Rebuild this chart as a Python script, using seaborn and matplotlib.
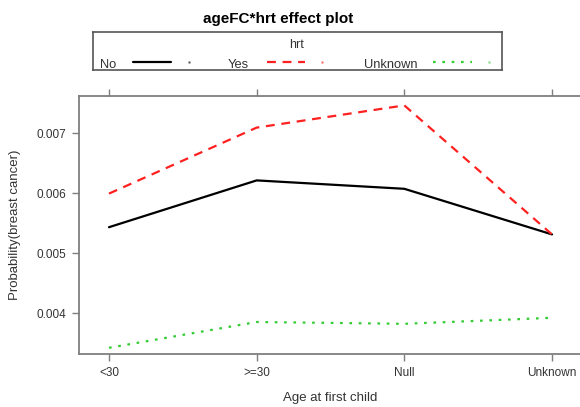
import matplotlib
matplotlib.use("Agg")
import matplotlib.pyplot as plt
import seaborn as sns
import pandas as pd
from matplotlib.lines import Line2D

categories = ["<30", ">=30", "Null", "Unknown"]
hrt_levels = ["No", "Yes", "Unknown"]
prob_no = [0.00543, 0.00621, 0.00607, 0.00531]
prob_yes = [0.00599, 0.00709, 0.00746, 0.00531]
prob_unknown = [0.00342, 0.00385, 0.00382, 0.00392]
y_ticks = [0.004, 0.005, 0.006, 0.007]

sns.set_style("white")
plt.rcParams['font.family'] = ['Liberation Sans', 'DejaVu Sans']

rows = []
for lvl, vals in zip(hrt_levels, [prob_no, prob_yes, prob_unknown]):
    for i, (c, v) in enumerate(zip(categories, vals)):
        rows.append({"ageFC": c, "pos": i, "hrt": lvl, "prob": v})
df = pd.DataFrame(rows)

fig = plt.figure(figsize=(5.8, 4.07), dpi=100)
ax = fig.add_axes([79/580, (407-354)/407, (582-79)/580, (354-95.7)/407])

palette = {"No": "black", "Yes": "#ff2020", "Unknown": "#33cc33"}
ls_map = {"No": "-", "Yes": (0, (4, 3)), "Unknown": (0, (1.2, 3))}
for lvl in hrt_levels:
    sub = df[df.hrt == lvl]
    sns.lineplot(data=sub, x="pos", y="prob", color=palette[lvl], ax=ax,
                 linewidth=1.6, legend=False)
for line, lvl in zip(ax.get_lines(), hrt_levels):
    line.set_linestyle(ls_map[lvl])
    line.set_dash_capstyle("butt")

ax.set_xlim(-30/147.7, 3 + 30/147.7)
ax.set_ylim(0.004 - 41/60*0.001, 0.007 + 37.3/60*0.001)
ax.set_xticks(range(len(categories)))
ax.set_xticklabels(categories)
ax.set_yticks(y_ticks)
ax.set_yticklabels([f"{t:.3f}" for t in y_ticks])
frame_col = "#7f7f7f"
for s in ax.spines.values():
    s.set_color(frame_col)
    s.set_linewidth(1.3)
ax.tick_params(axis="both", which="both", direction="out", length=5, width=1,
               color=frame_col, labelsize=8.5, labelcolor="#333333", pad=4.3)
ax.tick_params(axis="x", top=True, labeltop=False, bottom=True)
ax.tick_params(axis="y", left=True, right=False)
ax.set_xlabel("Age at first child", fontsize=9.5, color="#333333")
ax.set_ylabel("Probability(breast cancer)", fontsize=9.5, color="#333333")
ax.xaxis.set_label_coords(0.5, -0.170)
ax.xaxis.label.set_va("center")
ax.yaxis.set_label_coords((15-79)/503, 0.5)
ax.yaxis.label.set_va("center")

fig.text(278/580, 1 - 19/407, "ageFC*hrt effect plot", ha="center", va="center",
         fontsize=11, fontweight="bold", color="black")

lax = fig.add_axes([93/580, (407-70)/407, (502-93)/580, 38.3/407])
lax.set_xlim(93, 502)
lax.set_ylim(70, 31.7)
lax.set_xticks([]); lax.set_yticks([])
for s in lax.spines.values():
    s.set_color("#555555")
    s.set_linewidth(1.2)
lax.text(297, 45, "hrt", ha="center", va="center", fontsize=9, color="#333333")
entries = [("No", 100, 133, 171, 189), ("Yes", 228, 267, 305, 322),
           ("Unknown", 364, 433, 472, 489)]
for lvl, tx, l0, l1, dx in entries:
    lax.text(tx, 64.5, lvl, ha="left", va="center", fontsize=9.3, color="#333333")
    lax.add_line(Line2D([l0, l1], [62, 62], color=palette[lvl],
                        linestyle=ls_map[lvl], linewidth=1.6))
    lax.plot([dx], [62], marker="o", markersize=1, color=palette[lvl], alpha=0.4)

fig.savefig("out.png", dpi=100)
